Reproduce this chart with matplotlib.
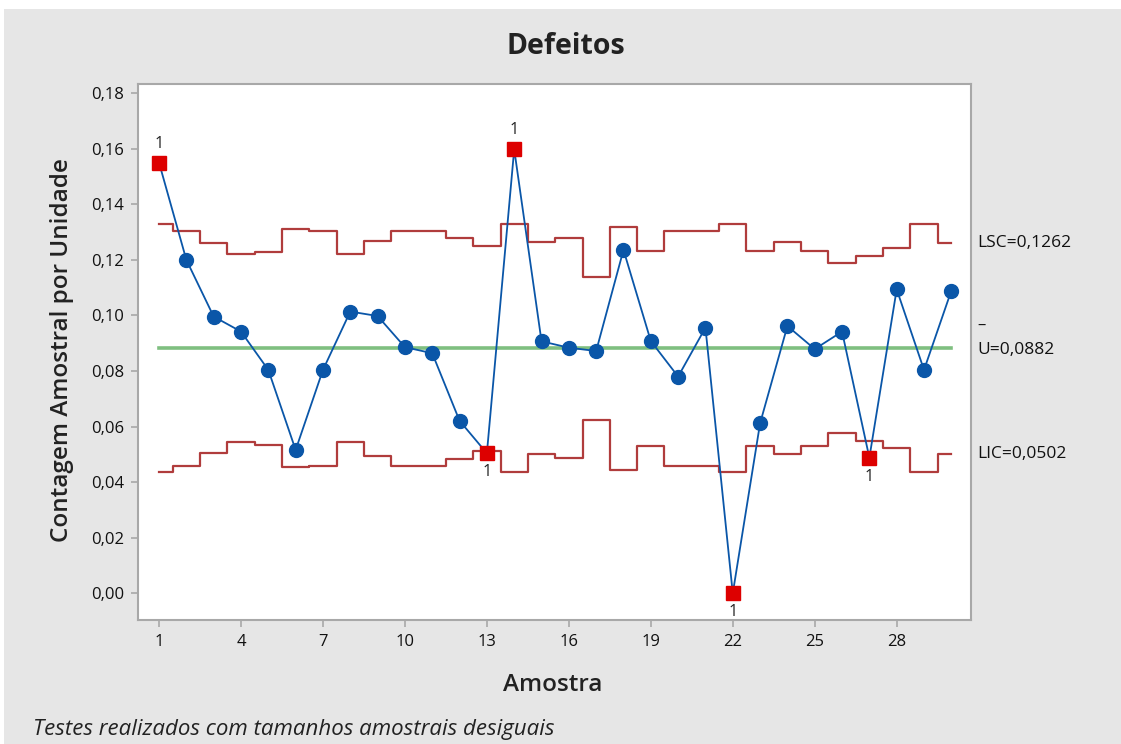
import matplotlib
matplotlib.use("Agg")
import matplotlib.pyplot as plt
from matplotlib.patches import Rectangle
from matplotlib.ticker import FuncFormatter
import matplotlib.transforms as mtransforms

plt.rcParams['font.family'] = ['Open Sans', 'DejaVu Sans']

# defect rate per unit, one value per sample
samples = list(range(1, 31))
u_values = [0.1550, 0.1200, 0.0996, 0.0942, 0.0804, 0.0516, 0.0804, 0.1014, 0.0998, 0.0886,
            0.0864, 0.0621, 0.0504, 0.1598, 0.0907, 0.0884, 0.0872, 0.1236, 0.0908, 0.0780,
            0.0956, 0.0000, 0.0612, 0.0962, 0.0879, 0.0942, 0.0488, 0.1094, 0.0804, 0.1089]
ucl = [0.1328, 0.1304, 0.1260, 0.1221, 0.1230, 0.1311, 0.1304, 0.1221, 0.1269, 0.1304,
       0.1304, 0.1280, 0.1250, 0.1328, 0.1264, 0.1278, 0.1140, 0.1320, 0.1232, 0.1304,
       0.1304, 0.1328, 0.1232, 0.1264, 0.1232, 0.1188, 0.1215, 0.1242, 0.1328, 0.1262]
lcl = [0.0436, 0.0460, 0.0504, 0.0543, 0.0534, 0.0453, 0.0460, 0.0543, 0.0495, 0.0460,
       0.0460, 0.0484, 0.0514, 0.0436, 0.0500, 0.0486, 0.0624, 0.0444, 0.0532, 0.0460,
       0.0460, 0.0436, 0.0532, 0.0500, 0.0532, 0.0576, 0.0549, 0.0522, 0.0436, 0.0502]
u_bar = 0.0882
x_ticks = [1, 4, 7, 10, 13, 16, 19, 22, 25, 28]
y_ticks = [0.00, 0.02, 0.04, 0.06, 0.08, 0.10, 0.12, 0.14, 0.16, 0.18]

BLUE = "#0a56a8"
RED = "#dd0000"
LIMIT = "#b03c3c"
GREEN = "#7fbf80"
GRAY = "#a8a8a8"
TXT = "#222222"

fig = plt.figure(figsize=(11.21, 7.44), dpi=100, facecolor="white")
fig.patches.append(Rectangle((4 / 1121, 0), 1, 1 - 9 / 744, transform=fig.transFigure,
                             facecolor="#e6e6e6", edgecolor="none", zorder=-10))
ax = fig.add_axes([138 / 1121, 1 - 620 / 744, (971 - 138) / 1121, (620 - 84) / 744])
ax.set_facecolor("white")

ax.step(samples, ucl, where="mid", color=LIMIT, lw=1.6, zorder=2)
ax.step(samples, lcl, where="mid", color=LIMIT, lw=1.6, zorder=2)
ax.plot([samples[0], samples[-1]], [u_bar, u_bar], color=GREEN, lw=2.6, zorder=2)

ax.plot(samples, u_values, color=BLUE, lw=1.3, zorder=3)
out_x, out_y, in_x, in_y = [], [], [], []
for s, v, hi, lo in zip(samples, u_values, ucl, lcl):
    if v > hi or v < lo:
        out_x.append(s)
        out_y.append(v)
        if v > hi:
            ax.annotate("1", (s, v), xytext=(0, 8), textcoords="offset points",
                        ha="center", va="bottom", fontsize=11.5, color=TXT)
        else:
            ax.annotate("1", (s, v), xytext=(0, -8), textcoords="offset points",
                        ha="center", va="top", fontsize=11.5, color=TXT)
    else:
        in_x.append(s)
        in_y.append(v)
ax.plot(in_x, in_y, "o", color=BLUE, ms=10, zorder=4)
ax.plot(out_x, out_y, "s", color=RED, ms=9.5, zorder=4)

ax.set_xlim(0.23, 30.72)
ax.set_ylim(-0.0096, 0.1833)
ax.set_xticks(x_ticks)
ax.set_yticks(y_ticks)
ax.yaxis.set_major_formatter(FuncFormatter(lambda v, p: f"{v:.2f}".replace(".", ",")))
ax.tick_params(direction="out", length=5, width=1.2, color=GRAY, labelsize=12,
               labelcolor="#111111", pad=5)
for sp in ax.spines.values():
    sp.set_color(GRAY)
    sp.set_linewidth(1.5)

trans = mtransforms.blended_transform_factory(ax.transAxes, ax.transData)
ax.text(1.008, ucl[-1], "LSC=" + f"{ucl[-1]:.4f}".replace(".", ","), transform=trans,
        va="center", ha="left", fontsize=12.5, color="#111111")
ax.text(1.008, u_bar - 0.0005, "U=" + f"{u_bar:.4f}".replace(".", ","), transform=trans,
        va="center", ha="left", fontsize=12.5, color="#111111")
ax.text(1.008, u_bar + 0.0080, "–", transform=trans,
        va="center", ha="left", fontsize=12, color="#111111")
ax.text(1.008, lcl[-1], "LIC=" + f"{lcl[-1]:.4f}".replace(".", ","), transform=trans,
        va="center", ha="left", fontsize=12.5, color="#111111")

fig.text(0.505, 1 - 47 / 744, "Defeitos", ha="center", va="center",
         fontsize=20.5, fontweight="bold", color=TXT)
fig.text(0.493, 1 - 685 / 744, "Amostra", ha="center", va="center",
         fontsize=17.5, fontweight="semibold", color=TXT)
fig.text(62 / 1121, 1 - 350 / 744, "Contagem Amostral por Unidade", ha="center", va="center",
         rotation=90, fontsize=17.5, fontweight="semibold", color=TXT)
fig.text(33 / 1121, 1 - 729 / 744, "Testes realizados com tamanhos amostrais desiguais",
         ha="left", va="center", fontsize=16, style="italic", color=TXT)

fig.savefig("out.png", dpi=100, facecolor=fig.get_facecolor())
